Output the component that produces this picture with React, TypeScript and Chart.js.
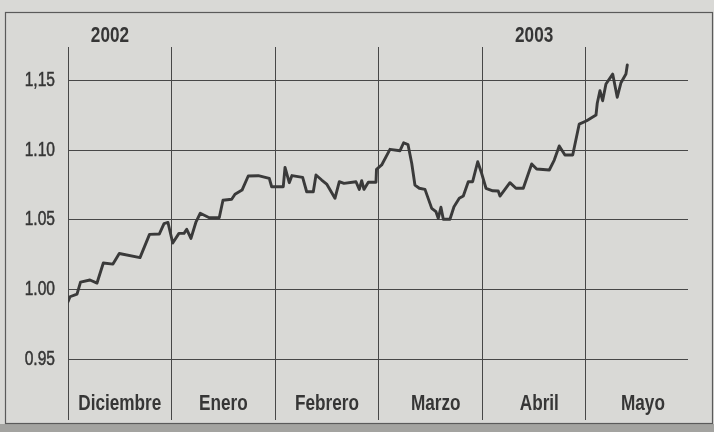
import React, { useEffect, useRef } from "react";
import { Chart, registerables } from "chart.js";

Chart.register(...registerables);

// Position within the Dec-2002..May-2003 window, measured in months from 1 Dec 2002
const monthPos = [
  0, 0.019, 0.087, 0.121, 0.212, 0.28, 0.341, 0.434, 0.495, 0.695,
  0.787, 0.881, 0.927, 0.965, 1.011, 1.071, 1.12, 1.146, 1.187, 1.236,
  1.277, 1.364, 1.46, 1.496, 1.58, 1.612, 1.68, 1.74, 1.837, 1.943,
  1.966, 2.078, 2.095, 2.136, 2.162, 2.265, 2.304, 2.368, 2.394, 2.449,
  2.497, 2.577, 2.619, 2.664, 2.78, 2.812, 2.835, 2.857, 2.899, 2.973,
  2.978, 3.028, 3.108, 3.205, 3.24, 3.282, 3.318, 3.349, 3.391, 3.446,
  3.511, 3.552, 3.574, 3.6, 3.623, 3.687, 3.726, 3.777, 3.816, 3.864,
  3.906, 3.955, 3.993, 4.035, 4.1, 4.153, 4.17, 4.266, 4.324, 4.395,
  4.476, 4.524, 4.646, 4.694, 4.742, 4.797, 4.872, 4.935, 5.007, 5.097,
  5.109, 5.135, 5.161, 5.193, 5.258, 5.302, 5.338, 5.386, 5.399,
];

// Euro / dollar exchange rate
const rate = [
  0.9913, 0.9949, 0.9968, 1.0054, 1.0069, 1.0047, 1.0191, 1.0183, 1.0259, 1.0229,
  1.0396, 1.0398, 1.0473, 1.0481, 1.0334, 1.0403, 1.0403, 1.0432, 1.0367, 1.0486,
  1.0547, 1.0515, 1.0515, 1.064, 1.0647, 1.0683, 1.0713, 1.0814, 1.0816, 1.0797,
  1.0737, 1.0737, 1.0876, 1.0766, 1.0817, 1.0804, 1.0701, 1.0701, 1.0821, 1.0785,
  1.0756, 1.0654, 1.0773, 1.0761, 1.0773, 1.0718, 1.078, 1.0718, 1.0769, 1.0769,
  1.0862, 1.0893, 1.1005, 1.0995, 1.1052, 1.1039, 1.0905, 1.0749, 1.0726, 1.0718,
  1.0582, 1.0558, 1.0511, 1.059, 1.0504, 1.0504, 1.0594, 1.0654, 1.067, 1.0773,
  1.0773, 1.0916, 1.0833, 1.0726, 1.0708, 1.0706, 1.067, 1.0766, 1.0726, 1.0726,
  1.09, 1.0864, 1.0857, 1.0928, 1.1029, 1.0964, 1.0964, 1.1186, 1.121, 1.1251,
  1.1335, 1.1425, 1.1353, 1.1473, 1.1544, 1.1378, 1.1482, 1.1544, 1.1609,
];

const months = ["Diciembre", "Enero", "Febrero", "Marzo", "Abril", "Mayo"];
const years = ["2002", "2003"];
const yTicks = [0.95, 1.0, 1.05, 1.1, 1.15];
const yTickLabels = ["0.95", "1.00", "1.05", "1.10", "1,15"];

const FONT = "'Liberation Sans', Arial, sans-serif";
const INK = "#363636";
const PAPER = "#d9d9d6";
const NARROW = 0.78;

function narrowText(ctx: any, text: string, x: number, y: number, align: "left" | "center" | "right", stroke = 0) {
  ctx.save();
  ctx.translate(x, y);
  ctx.scale(NARROW, 1);
  ctx.textAlign = align;
  ctx.fillText(text, 0, 0);
  if (stroke > 0) {
    ctx.lineWidth = stroke;
    ctx.strokeStyle = ctx.fillStyle;
    ctx.strokeText(text, 0, 0);
  }
  ctx.restore();
}

const framePlugin = {
  id: "frame",
  beforeDraw(chart: any) {
    const ctx = chart.ctx;
    ctx.save();
    ctx.fillStyle = PAPER;
    ctx.fillRect(0, 0, chart.width, chart.height);
    ctx.fillStyle = "#a3a3a0";
    ctx.fillRect(0, 424, chart.width, chart.height - 424);
    ctx.strokeStyle = "#5a5a5a";
    ctx.lineWidth = 1.2;
    ctx.strokeRect(5.5, 12.5, 707, 411);
    ctx.restore();
  },
  afterDraw(chart: any) {
    const ctx = chart.ctx;
    const xs = chart.scales.x;
    const ys = chart.scales.y;
    ctx.save();
    ctx.fillStyle = INK;
    ctx.textBaseline = "alphabetic";
    ctx.font = `bold 22px ${FONT}`;
    months.forEach((m, i) => {
      const pos = i + 0.5 + (i >= 3 ? 0.05 : 0);
      narrowText(ctx, m, xs.getPixelForValue(pos), 410, "center");
    });
    narrowText(ctx, years[0], xs.getPixelForValue(0.405), 42, "center");
    narrowText(ctx, years[1], xs.getPixelForValue(4.5), 42, "center");
    ctx.font = `20px ${FONT}`;
    ctx.textBaseline = "middle";
    yTicks.forEach((v, i) => {
      narrowText(ctx, yTickLabels[i], ys.left + ys.width - 13, ys.getPixelForValue(v), "right", 0.5);
    });
    ctx.restore();
  },
};

export default function App() {
  const ref = useRef<HTMLCanvasElement>(null);
  useEffect(() => {
    if (!ref.current) return;
    const chart = new Chart(ref.current, {
      type: "line",
      data: {
        datasets: [
          {
            data: monthPos.map((x, i) => ({ x, y: rate[i] })),
            borderColor: "#3a3a3a",
            borderWidth: 2.9,
            pointRadius: 0,
            tension: 0,
            borderJoinStyle: "round",
            borderCapStyle: "round",
          },
        ],
      },
      options: {
        animation: false,
        responsive: false,
        events: [],
        layout: { padding: { left: 0, top: 47, right: 26, bottom: 12 } },
        plugins: { legend: { display: false }, tooltip: { enabled: false } },
        scales: {
          x: {
            type: "linear",
            min: 0,
            max: 5.985,
            border: { display: false },
            grid: { color: "#474747", lineWidth: 1, drawTicks: false },
            ticks: { display: false },
            afterBuildTicks: (s: any) => {
              s.ticks = months.map((_, i) => ({ value: i }));
            },
            afterFit: (s: any) => {
              s.height = 0;
            },
          },
          y: {
            type: "linear",
            min: 0.9066,
            max: 1.1738,
            border: { display: false },
            grid: { color: "#474747", lineWidth: 1, drawTicks: false },
            ticks: { display: false },
            afterBuildTicks: (s: any) => {
              s.ticks = yTicks.map((v) => ({ value: v }));
            },
            afterFit: (s: any) => {
              s.width = 68;
            },
          },
        },
      },
      plugins: [framePlugin],
    });
    return () => chart.destroy();
  }, []);
  return (
    <div style={{ position: "absolute", left: 0, top: 0, width: 714, height: 432 }}>
      <canvas ref={ref} width={714} height={432} />
    </div>
  );
}
